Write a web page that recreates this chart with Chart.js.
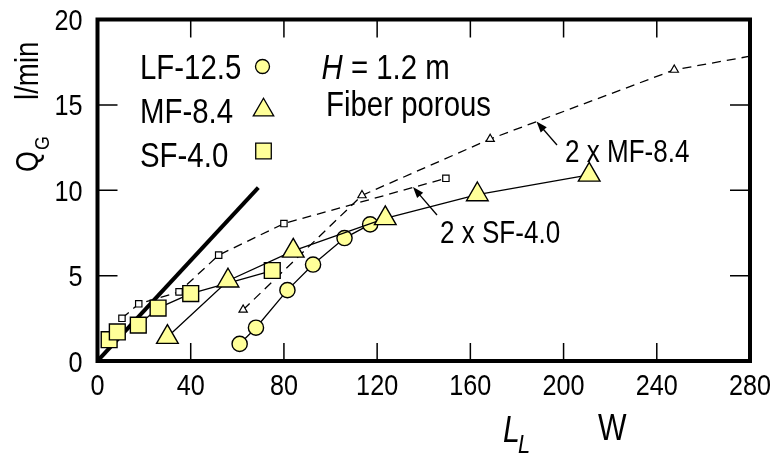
<!DOCTYPE html>
<html>
<head>
<meta charset="utf-8">
<script src="https://cdn.jsdelivr.net/npm/chart.js@4.4.1/dist/chart.umd.min.js"></script>
<style>
  html, body { margin: 0; padding: 0; background: #fff; }
  #wrap { width: 779px; height: 459px; }
</style>
</head>
<body>
<div id="wrap"><canvas id="chart" width="779" height="459"></canvas></div>
<script>
// tick values
const xTicks = [0, 40, 80, 120, 160, 200, 240, 280];
const yTicks = [0, 5, 10, 15, 20];

// LF-12.5 (circles)
const lfL = [61, 68, 81.5, 92.5, 106, 117];
const lfQ = [1.0, 1.95, 4.15, 5.65, 7.2, 8.0];
// MF-8.4 (triangles)
const mfL = [30, 56, 84, 123.5, 163, 211];
const mfQ = [1.4, 4.7, 6.45, 8.35, 9.75, 10.9];
// SF-4.0 (squares)
const sfL = [5, 8.5, 17.5, 26, 40, 75];
const sfQ = [1.25, 1.7, 2.1, 3.1, 3.95, 5.3];
// 2 x SF-4.0 (dashed, small squares)
const sf2L = [10.5, 17.7, 35, 52, 80, 149.5];
const sf2Q = [2.5, 3.35, 4.05, 6.2, 8.05, 10.7];
// 2 x MF-8.4 (dashed, small triangles, last point is the curve end)
const mf2L = [62.5, 113.5, 168.5, 247.5, 280];
const mf2Q = [3.0, 9.7, 13.0, 17.05, 17.85];
// thick reference line
const refL = [0, 69];
const refQ = [0, 10.15];

const FONT = '"Liberation Sans", Arial, sans-serif';
const NARROW = 0.84; // squeeze to look like Helvetica Narrow
const YELLOW = '#ffff99';

const pts = (xs, ys) => xs.map((x, i) => ({ x: x, y: ys[i] }));

// draws condensed text, returns its width
function text(ctx, str, x, y, size, opts = {}) {
    ctx.save();
    ctx.font = (opts.italic ? 'italic ' : '') + size + 'px ' + FONT;
    ctx.textAlign = opts.align || 'left';
    ctx.textBaseline = 'alphabetic';
    ctx.translate(x, y);
    ctx.scale(NARROW, 1);
    ctx.fillText(str, 0, 0);
    const w = ctx.measureText(str).width * NARROW;
    ctx.restore();
    return w;
}

function arrow(ctx, x1, y1, x2, y2) {
    const a = Math.atan2(y2 - y1, x2 - x1);
    ctx.beginPath();
    ctx.moveTo(x1, y1);
    ctx.lineTo(x2 - 8 * Math.cos(a), y2 - 8 * Math.sin(a));
    ctx.lineWidth = 1.3;
    ctx.stroke();
    ctx.beginPath();
    ctx.moveTo(x2, y2);
    ctx.lineTo(x2 - 11 * Math.cos(a) + 4 * Math.sin(a), y2 - 11 * Math.sin(a) - 4 * Math.cos(a));
    ctx.lineTo(x2 - 11 * Math.cos(a) - 4 * Math.sin(a), y2 - 11 * Math.sin(a) + 4 * Math.cos(a));
    ctx.closePath();
    ctx.fill();
}

// frame, inward ticks, tick labels, legend, labels, arrows
const decorPlugin = {
    id: 'decor',
    afterDraw(chart) {
        const { ctx, chartArea: { left, right, top, bottom }, scales: { x, y } } = chart;
        ctx.save();
        ctx.strokeStyle = '#000';
        ctx.fillStyle = '#000';

        // ticks + labels
        ctx.lineWidth = 1.5;
        ctx.beginPath();
        xTicks.forEach(v => {
            const px = x.getPixelForValue(v);
            ctx.moveTo(px, bottom); ctx.lineTo(px, bottom - 18);
            ctx.moveTo(px, top); ctx.lineTo(px, top + 18);
        });
        yTicks.forEach(v => {
            const py = y.getPixelForValue(v);
            ctx.moveTo(left, py); ctx.lineTo(left + 20, py);
            ctx.moveTo(right, py); ctx.lineTo(right - 20, py);
        });
        ctx.stroke();
        xTicks.forEach(v => text(ctx, String(v), x.getPixelForValue(v), bottom + 34, 30, { align: 'center' }));
        yTicks.forEach(v => text(ctx, String(v), left - 15, y.getPixelForValue(v) + 10.5, 30, { align: 'right' }));

        // frame
        ctx.lineWidth = 4;
        ctx.strokeRect(left, top, right - left, bottom - top);

        // legend
        text(ctx, 'LF-12.5', 140, 79, 35);
        text(ctx, 'MF-8.4', 140, 123, 35);
        text(ctx, 'SF-4.0', 140, 166.5, 35);
        const sym = { borderWidth: 1.3, rotation: 0 };
        ctx.fillStyle = YELLOW;
        ctx.lineWidth = 1.3;
        Chart.helpers.drawPoint(ctx, { ...sym, pointStyle: 'circle', radius: 7 }, 262.5, 66.5);
        Chart.helpers.drawPoint(ctx, { ...sym, pointStyle: 'triangle', radius: 11.8 }, 263.5, 110);
        Chart.helpers.drawPoint(ctx, { ...sym, pointStyle: 'rect', radius: 11 }, 263.5, 151);
        ctx.fillStyle = '#000';

        // condition text
        const hw = text(ctx, 'H', 321.5, 79.3, 35, { italic: true });
        text(ctx, ' = 1.2 m', 321.5 + hw, 79.3, 35);
        text(ctx, 'Fiber porous', 326, 116, 35);

        // annotations
        text(ctx, '2 x MF-8.4', 565, 161.5, 31);
        text(ctx, '2 x SF-4.0', 440, 243, 31);
        arrow(ctx, 557, 145, 536.5, 121.5);
        arrow(ctx, 437, 215, 413, 187);

        // y title
        ctx.save();
        ctx.translate(38, 172);
        ctx.rotate(-Math.PI / 2);
        const qw = text(ctx, 'Q', 0, 0, 32);
        text(ctx, 'G', qw + 1, 11, 21);
        text(ctx, 'l/min', 72, 0, 33);
        ctx.restore();

        // x title
        text(ctx, 'L', 503, 442, 36, { italic: true });
        text(ctx, 'L', 518, 453, 26, { italic: true });
        text(ctx, 'W', 598, 440, 36);

        ctx.restore();
    }
};

const solid = { showLine: true, borderColor: '#000', borderWidth: 1.3, tension: 0,
                pointBorderColor: '#000', pointBorderWidth: 1.4, pointBackgroundColor: YELLOW };
const dashed = { showLine: true, borderColor: '#000', borderWidth: 1.3, borderDash: [9, 6], tension: 0,
                 pointBorderColor: '#000', pointBorderWidth: 1.2, pointBackgroundColor: '#fff' };

new Chart(document.getElementById('chart').getContext('2d'), {
    type: 'scatter',
    data: {
        datasets: [
            { ...solid, label: 'MF-8.4', data: pts(mfL, mfQ), pointStyle: 'triangle', pointRadius: 12.5, order: 1 },
            { ...solid, label: 'LF-12.5', data: pts(lfL, lfQ), pointStyle: 'circle', pointRadius: 7.6, order: 2 },
            { ...solid, label: 'SF-4.0', data: pts(sfL, sfQ), pointStyle: 'rect', pointRadius: 11.2, order: 3 },
            { label: 'ref', data: pts(refL, refQ), showLine: true, borderColor: '#000', borderWidth: 4,
              pointRadius: 0, order: 4 },
            { ...dashed, label: '2 x SF-4.0', data: pts(sf2L, sf2Q), pointStyle: 'rect', pointRadius: 4.5, order: 5 },
            { ...dashed, label: '2 x MF-8.4', data: pts(mf2L, mf2Q), pointStyle: 'triangle',
              pointRadius: mf2L.map((v, i) => i === mf2L.length - 1 ? 0 : 4.8), order: 6 }
        ]
    },
    options: {
        responsive: false,
        animation: false,
        layout: { padding: { top: 19.5, right: 29, left: 0, bottom: 0 } },
        plugins: { legend: { display: false }, tooltip: { enabled: false } },
        scales: {
            x: {
                type: 'linear', min: 0, max: 280,
                afterBuildTicks: s => { s.ticks = xTicks.map(v => ({ value: v })); },
                afterFit: s => { s.height = 98; },
                grid: { display: false }, border: { display: false },
                ticks: { display: false }
            },
            y: {
                type: 'linear', min: 0, max: 20,
                afterBuildTicks: s => { s.ticks = yTicks.map(v => ({ value: v })); },
                afterFit: s => { s.width = 97.5; },
                grid: { display: false }, border: { display: false },
                ticks: { display: false }
            }
        }
    },
    plugins: [decorPlugin]
});
</script>
</body>
</html>
